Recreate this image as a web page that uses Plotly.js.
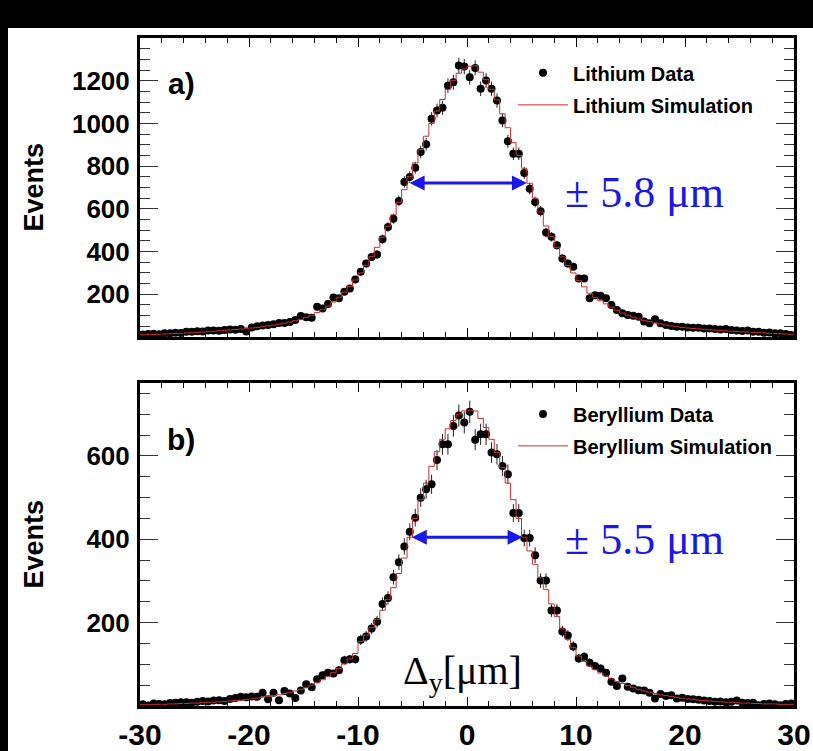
<!DOCTYPE html>
<html><head><meta charset="utf-8">
<script src="https://cdn.plot.ly/plotly-3.0.1.min.js"></script>
<style>
html,body{margin:0;padding:0;background:#000;width:813px;height:751px;overflow:hidden}
#chart{position:absolute;left:8px;top:28px;width:805px;height:723px;background:#fff}
</style></head><body><div id="chart"></div>
<script>
const binStart = -30, binWidth = 0.5;

const lithiumData = [
 12,14,15,13,17,18,20,19,24,25,
 27,26,30,31,29,33,35,34,38,26,
 45,50,54,56,60,65,66,70,79,98,
 92,90,142,134,155,185,181,212,227,269,
 305,344,375,386,458,515,554,637,726,749,
 793,866,903,1022,1060,1073,1177,1193,1271,1266,
 1216,1260,1162,1201,1162,1107,1014,916,858,858,
 768,694,632,589,489,469,430,367,344,329,
 274,274,181,196,193,181,150,126,111,103,
 100,95,72,64,83,64,56,51,48,48,
 45,43,43,40,40,37,35,37,33,31,
 28,30,25,24,20,21,17,18,14,9];

const lithiumSim = [
 10,11,12,13,14,15,16,17,19,20,
 22,23,25,27,29,31,33,35,37,39,
 42,45,48,52,56,60,65,70,76,83,
 92,102,114,128,145,164,186,210,237,267,
 300,336,376,420,467,518,572,630,690,752,
 815,878,940,1000,1058,1112,1160,1200,1235,1255,
 1268,1270,1240,1205,1160,1110,1045,980,910,850,
 790,720,650,585,520,470,420,375,335,300,
 265,235,205,185,170,155,140,125,112,102,
 93,85,78,72,66,61,56,52,48,45,
 42,40,38,36,34,32,30,29,27,26,
 24,23,21,20,19,17,16,15,14,13];

const berylliumData = [
 4,1,6,5,4,7,8,9,9,8,
 10,12,11,13,14,12,17,19,22,21,
 23,22,32,16,32,14,36,30,19,37,
 52,45,64,74,80,78,86,110,112,112,
 159,167,186,202,245,259,309,345,383,418,
 452,500,520,532,590,628,628,672,697,680,
 706,639,652,652,608,604,576,556,463,463,
 403,403,362,301,301,229,229,179,169,143,
 114,118,104,96,90,80,58,48,66,46,
 42,38,37,32,18,29,24,26,18,20,
 17,16,15,13,12,10,11,9,10,13,
 8,7,8,2,5,6,4,2,5,6];

const berylliumSim = [
 3,3,4,4,4,5,5,6,6,7,
 7,8,9,9,10,11,12,13,14,16,
 17,19,21,23,25,27,30,33,36,40,
 45,50,56,63,71,80,90,101,113,126,
 155,170,188,208,230,256,284,318,355,405,
 450,495,535,575,610,640,665,685,700,708,
 710,708,690,668,640,608,572,535,495,450,
 405,372,340,308,280,245,215,185,160,140,
 120,107,96,87,79,72,65,59,54,49,
 44,40,36,33,30,27,25,23,21,19,
 17,16,14,13,12,11,10,9,9,8,
 7,7,6,6,5,5,5,4,4,4];

const xTickVals = [-30,-20,-10,0,10,20,30];
const xTickText = ['-30','-20','-10','0','10','20','30'];
const yTicksA = [200,400,600,800,1000,1200];
const yTicksB = [200,400,600];

const centers = lithiumData.map((_, i) => binStart + binWidth * (i + 0.5));
const edges = lithiumData.map((_, i) => binStart + binWidth * i).concat([binStart + binWidth * lithiumData.length]);
const stepY = a => a.concat([a[a.length - 1]]);

const sans = 'Liberation Sans, Arial, Helvetica, sans-serif';
const serif = 'Liberation Serif, Times New Roman, serif';
const simColor = '#c83030';
const blue = '#1818e8';

function dataTrace(y, name, xa, ya, leg) {
  return {x: centers, y: y, type: 'scatter', mode: 'markers', name: name,
    xaxis: xa, yaxis: ya, legend: leg, legendgroup: name, legendrank: 1,
    marker: {size: 8, color: '#000'},
    error_y: {type: 'data', array: y.map(Math.sqrt), visible: true, width: 0, thickness: 1, color: '#222'}};
}
function simTrace(y, name, xa, ya, leg) {
  return {x: edges, y: stepY(y), type: 'scatter', mode: 'lines', name: name,
    xaxis: xa, yaxis: ya, legend: leg, legendgroup: name, legendrank: 2,
    line: {shape: 'hv', color: simColor, width: 1}};
}

const traces = [
  dataTrace(lithiumData, 'Lithium Data', 'x', 'y', 'legend'),
  simTrace(lithiumSim, 'Lithium Simulation', 'x', 'y', 'legend'),
  dataTrace(berylliumData, 'Beryllium Data', 'x2', 'y2', 'legend2'),
  simTrace(berylliumSim, 'Beryllium Simulation', 'x2', 'y2', 'legend2')
];

function xAxis(anchor, labels) {
  return {domain: [0, 1], anchor: anchor, range: [-30, 30], showticklabels: labels,
    tickmode: 'array', tickvals: xTickVals, ticktext: xTickText,
    ticks: 'inside', ticklen: 9, tickwidth: 1, tickcolor: '#000',
    tickfont: {family: sans, size: 30, weight: 'bold', color: '#000'},
    showline: true, linewidth: 3, linecolor: '#000', mirror: 'allticks',
    showgrid: false, zeroline: false, fixedrange: true,
    minor: {tickmode: 'linear', tick0: -30, dtick: 2, ticks: 'inside', ticklen: 5, tickwidth: 1, tickcolor: '#000', showgrid: false}};
}
function yAxis(anchor, domain, range, vals) {
  return {domain: domain, anchor: anchor, range: range,
    tickmode: 'array', tickvals: vals,
    ticks: 'inside', ticklen: 18, tickwidth: 1, tickcolor: '#333',
    tickfont: {family: sans, size: 26, weight: 'bold', color: '#000'},
    ticklabelstandoff: 2,
    showline: true, linewidth: 3, linecolor: '#000', mirror: 'allticks',
    showgrid: false, zeroline: false, fixedrange: true,
    minor: {tickmode: 'linear', tick0: 0, dtick: 50, ticks: 'inside', ticklen: 10, tickwidth: 1, tickcolor: '#333', showgrid: false}};
}

const legendFont = {family: sans, size: 20, weight: 'bold', color: '#000'};

const layout = {
  width: 805, height: 723,
  margin: {l: 132, r: 19, t: 10, b: 45, pad: 0},
  paper_bgcolor: '#fff', plot_bgcolor: '#fff',
  showlegend: true,
  xaxis: xAxis('y', false),
  yaxis: yAxis('x', [0.5524, 1], [0, 1400], yTicksA),
  xaxis2: xAxis('y2', true),
  yaxis2: yAxis('x2', [0, 0.4835], [0, 775], yTicksB),
  legend: {x: 0.5703, y: 0.977, xanchor: 'left', yanchor: 'top', font: legendFont,
    bgcolor: 'rgba(0,0,0,0)', borderwidth: 0, tracegroupgap: 3, itemsizing: 'trace', itemwidth: 50},
  legend2: {x: 0.5703, y: 0.4665, xanchor: 'left', yanchor: 'top', font: legendFont,
    bgcolor: 'rgba(0,0,0,0)', borderwidth: 0, tracegroupgap: 3, itemsizing: 'trace', itemwidth: 50},
  annotations: [
    {xref: 'x', yref: 'y', x: 5.5, y: 721, axref: 'x', ayref: 'y', ax: -5.4, ay: 721,
     text: '', showarrow: true, arrowhead: 2, arrowside: 'end+start', arrowwidth: 3, arrowsize: 1, arrowcolor: blue},
    {xref: 'x2', yref: 'y2', x: 5.1, y: 405, axref: 'x2', ayref: 'y2', ax: -5.2, ay: 405,
     text: '', showarrow: true, arrowhead: 2, arrowside: 'end+start', arrowwidth: 3, arrowsize: 1, arrowcolor: blue},
    {xref: 'x', yref: 'y', x: 16.3, y: 678, text: '± 5.8 μm', showarrow: false,
     font: {family: serif, size: 44, color: blue}},
    {xref: 'x2', yref: 'y2', x: 16.3, y: 399, text: '± 5.5 μm', showarrow: false,
     font: {family: serif, size: 44, color: blue}},
    {xref: 'x', yref: 'y', x: -26.2, y: 1187, text: 'a)', showarrow: false,
     font: {family: sans, size: 30, weight: 'bold', color: '#000'}},
    {xref: 'x2', yref: 'y2', x: -26.2, y: 640, text: 'b)', showarrow: false,
     font: {family: sans, size: 30, weight: 'bold', color: '#000'}},
    {xref: 'x2', yref: 'y2', x: -0.4, y: 78, text: 'Δ<sub>y</sub>[μm]', showarrow: false,
     font: {family: serif, size: 40, color: '#000'}},
    {xref: 'paper', yref: 'y domain', x: 0, xshift: -106, y: 0.5, text: 'Events', textangle: -90,
     showarrow: false, xanchor: 'center', yanchor: 'middle', font: {family: sans, size: 27, weight: 'bold', color: '#000'}},
    {xref: 'paper', yref: 'y2 domain', x: 0, xshift: -106, y: 0.5, text: 'Events', textangle: -90,
     showarrow: false, xanchor: 'center', yanchor: 'middle', font: {family: sans, size: 27, weight: 'bold', color: '#000'}}
  ]
};

Plotly.newPlot('chart', traces, layout, {staticPlot: true, displayModeBar: false});
</script></body></html>
